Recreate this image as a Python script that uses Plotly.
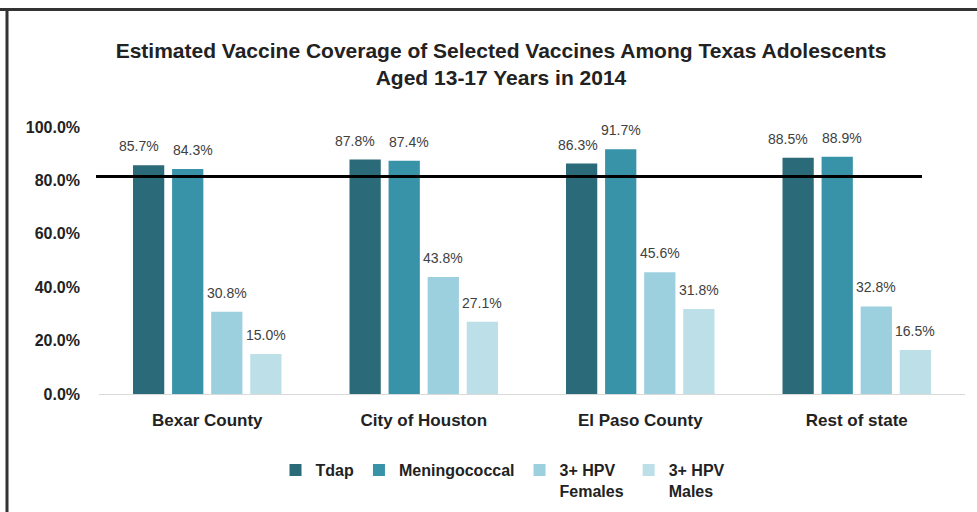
import plotly.graph_objects as go

categories = ["Bexar County", "City of Houston", "El Paso County", "Rest of state"]
series_names = ["Tdap", "Meningococcal", "3+ HPV<br>Females", "3+ HPV<br>Males"]
tdap = [85.7, 87.8, 86.3, 88.5]
meningococcal = [84.3, 87.4, 91.7, 88.9]
hpv_females = [30.8, 43.8, 45.6, 32.8]
hpv_males = [15.0, 27.1, 31.8, 16.5]
target_line = 81.5
y_ticks = [0, 20, 40, 60, 80, 100]
y_tick_labels = ["0.0%", "20.0%", "40.0%", "60.0%", "80.0%", "100.0%"]

colors = ["#2b6a78", "#3893a8", "#9dd0df", "#bcdfe8"]
all_series = [tdap, meningococcal, hpv_females, hpv_males]

W, H = 977, 512
L, R, T, B = 99, 12, 127, 118
pw, ph = W - L - R, H - T - B
bargap, bargroupgap = 0.278, 0.2

fig = go.Figure()
for name, vals, col in zip(series_names, all_series, colors):
    fig.add_trace(go.Bar(x=categories, y=vals, name=name, marker_color=col,
                         marker_line_width=0))

# data labels (labels of neighbouring bars with similar heights are nudged apart)
n = len(all_series)
slot = (1 - bargap) / n
annotations = []
for i, vals in enumerate(all_series):
    off = -(1 - bargap) / 2 + slot * (i + 0.5)
    for j, v in enumerate(vals):
        xshift = 0
        if i in (0, 1):
            if abs(all_series[0][j] - all_series[1][j]) < 3:
                xshift = -10 if i == 0 else 5
            elif i == 0:
                xshift = -4
        annotations.append(dict(x=j + off, y=v, xref="x", yref="y",
                                text=f"{v:.1f}%", showarrow=False,
                                yanchor="middle", yshift=19, xshift=xshift,
                                font=dict(family="Liberation Sans, Arial", size=14, color="#404040")))

def px_x(px):
    return (px - L) / pw

def px_y(py):
    return (H - B - py) / ph

shapes = [
    dict(type="line", xref="paper", yref="y", x0=px_x(96), x1=px_x(922),
         y0=target_line, y1=target_line, line=dict(color="black", width=3)),
    dict(type="line", xref="paper", yref="paper", x0=px_x(0), x1=px_x(977),
         y0=px_y(9.5), y1=px_y(9.5), line=dict(color="#333333", width=3)),
    dict(type="line", xref="paper", yref="paper", x0=px_x(7), x1=px_x(7),
         y0=px_y(9), y1=px_y(512), line=dict(color="#333333", width=3)),
]

fig.update_layout(
    width=W, height=H,
    margin=dict(l=L, r=R, t=T, b=B, autoexpand=False),
    paper_bgcolor="white", plot_bgcolor="white",
    barmode="group", bargap=bargap, bargroupgap=bargroupgap,
    title=dict(text="<b>Estimated Vaccine Coverage of Selected Vaccines Among Texas Adolescents<br>Aged 13-17 Years in 2014</b>",
               x=501 / W, xref="container", xanchor="center",
               y=(H - 58) / H, yref="container", yanchor="middle",
               font=dict(family="Liberation Sans, Arial", size=21, color="#222222")),
    xaxis=dict(showline=True, linecolor="#d9d9d9", linewidth=1, showgrid=False,
               ticks="outside", ticklen=11, tickcolor="rgba(0,0,0,0)", automargin=False,
               tickfont=dict(family="Liberation Sans, Arial", size=17, color="#222222", weight="bold")),
    yaxis=dict(range=[0, 100], tickvals=y_ticks, ticktext=y_tick_labels, showgrid=False,
               zeroline=False, showline=False, ticklabelstandoff=18, automargin=False,
               tickfont=dict(family="Liberation Sans, Arial", size=16, color="#222222", weight="bold")),
    legend=dict(orientation="h", x=px_x(503), xanchor="center", y=px_y(453), yanchor="top",
                valign="top", traceorder="normal",
                font=dict(family="Liberation Sans, Arial", size=16, color="#222222", weight="bold")),
    annotations=annotations,
    shapes=shapes,
)

fig.write_html("out.html", config={"displayModeBar": False},
               post_script="document.body.style.margin='0';document.body.style.overflow='hidden';")
